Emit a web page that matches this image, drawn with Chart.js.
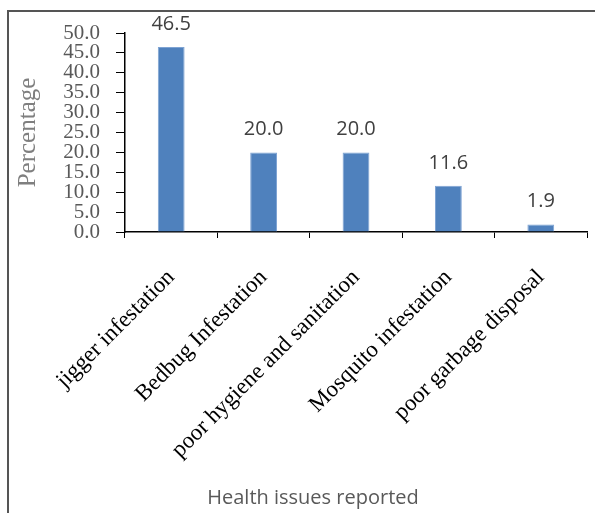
<!DOCTYPE html>
<html>
<head>
<meta charset="utf-8">
<script src="https://cdn.jsdelivr.net/npm/chart.js@4.4.0/dist/chart.umd.min.js"></script>
<style>
    body { margin: 0; overflow: hidden; background: #fff; }
    #frame { position: absolute; left: 7px; top: 10px; width: 608px; height: 520px; border: 2px solid #555; }
</style>
</head>
<body>
<div id="frame"><canvas id="chart-issues" width="608" height="505"></canvas></div>
<script>
// Data
var issues = ['jigger infestation', 'Bedbug Infestation', 'poor hygiene and sanitation', 'Mosquito infestation', 'poor garbage disposal'];
var percentages = [46.5, 20.0, 20.0, 11.6, 1.9];
var yMin = 0;
var yMax = 50;
var yStep = 5;

// Draw the value above each bar
var valueLabels = {
    id: 'valueLabels',
    afterDatasetsDraw: function (chart) {
        var ctx = chart.ctx;
        var meta = chart.getDatasetMeta(0);
        ctx.save();
        ctx.font = '20px "Open Sans"';
        ctx.fillStyle = '#404040';
        ctx.textAlign = 'center';
        ctx.textBaseline = 'alphabetic';
        meta.data.forEach(function (bar, i) {
            ctx.fillText(percentages[i].toFixed(1), bar.x, bar.y - 17);
        });
        ctx.restore();
    }
};

new Chart(document.getElementById('chart-issues'), {
    type: 'bar',
    data: {
        labels: issues,
        datasets: [{
            data: percentages,
            backgroundColor: '#4f81bd',
            borderColor: '#7ea3d3',
            borderWidth: 1,
            categoryPercentage: 1,
            barPercentage: 0.29
        }]
    },
    options: {
        responsive: false,
        animation: false,
        layout: { padding: { top: 21, right: 0, left: 0, bottom: 0 } },
        plugins: {
            legend: { display: false },
            tooltip: { enabled: false },
            title: {
                display: true,
                position: 'bottom',
                text: 'Health issues reported',
                color: '#595959',
                font: { family: '"Open Sans"', size: 20, weight: 'normal' },
                padding: { top: 10, bottom: 7 }
            }
        },
        scales: {
            x: {
                // fixed height, and room on the right for the cut-off frame
                afterFit: function (scale) {
                    scale.height = 244;
                    scale.paddingRight = 30;
                    scale.paddingLeft = 0;
                },
                grid: { drawOnChartArea: false, drawTicks: true, tickLength: 6, color: '#000' },
                border: { display: true, color: '#000', width: 1.5 },
                ticks: {
                    autoSkip: false,
                    minRotation: 45,
                    maxRotation: 45,
                    padding: 26,
                    color: '#000',
                    font: { family: '"Liberation Serif"', size: 23 }
                }
            },
            y: {
                min: yMin,
                max: yMax,
                afterFit: function (scale) {
                    scale.width = 116;
                    scale.paddingTop = 0;
                    scale.paddingBottom = 0;
                },
                grid: { drawOnChartArea: false, drawTicks: true, tickLength: 9, color: '#000' },
                border: { display: true, color: '#000', width: 1.5 },
                ticks: {
                    stepSize: yStep,
                    autoSkip: false,
                    padding: 16,
                    color: '#595959',
                    font: { family: '"Liberation Serif"', size: 21 },
                    callback: function (value) { return value.toFixed(1); }
                },
                title: {
                    display: true,
                    text: 'Percentage',
                    color: '#7f7f7f',
                    font: { family: '"Liberation Serif"', size: 25 }
                }
            }
        }
    },
    plugins: [valueLabels]
});
</script>
</body>
</html>
